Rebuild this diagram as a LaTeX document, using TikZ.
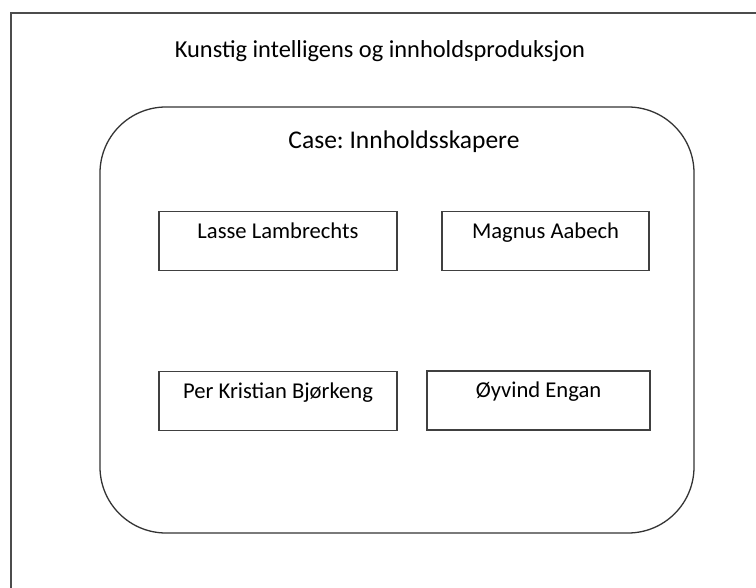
\documentclass[tikz,border=0pt]{standalone}
\usepackage{fontspec}
\setmainfont{Carlito}
\usepackage{tikz}
\frenchspacing

\begin{document}
\begin{tikzpicture}[x=1pt, y=-1pt,
    namebox/.style={draw=black!75, line width=1.6pt, inner xsep=0pt, inner ysep=5pt,
      text height=22pt, text depth=27pt, font=\fontsize{22.6}{26}\selectfont}]
    \useasboundingbox (0,0) rectangle (756,588);
    \clip (0,0) rectangle (756,588);
    \draw[black!70, line width=1.8pt] (11,13) rectangle (780,610);
    \node (title) at (380,58) [anchor=base, font=\fontsize{24.4}{28}\selectfont] {Kunstig intelligens og innholdsproduksjon};
    \node (casebox) at (397,320) [draw=black!80, line width=1.3pt, rounded corners=66pt, minimum width=594pt, minimum height=426pt] {};
    \node (caselabel) at (404,149) [anchor=base, font=\fontsize{25.5}{30}\selectfont] {Case: Innholdsskapere};
    \node[namebox, minimum width=238pt] (lasse) at (278,241) {Lasse Lambrechts};
    \node[namebox, minimum width=207pt] (magnus) at (545.5,241) {Magnus Aabech};
    \node[namebox, minimum width=238pt] (per) at (278,401) {Per Kristian Bjørkeng};
    \node[namebox, minimum width=223pt] (oyvind) at (538.5,400.5) {Øyvind Engan};
  \end{tikzpicture}
\end{document}
